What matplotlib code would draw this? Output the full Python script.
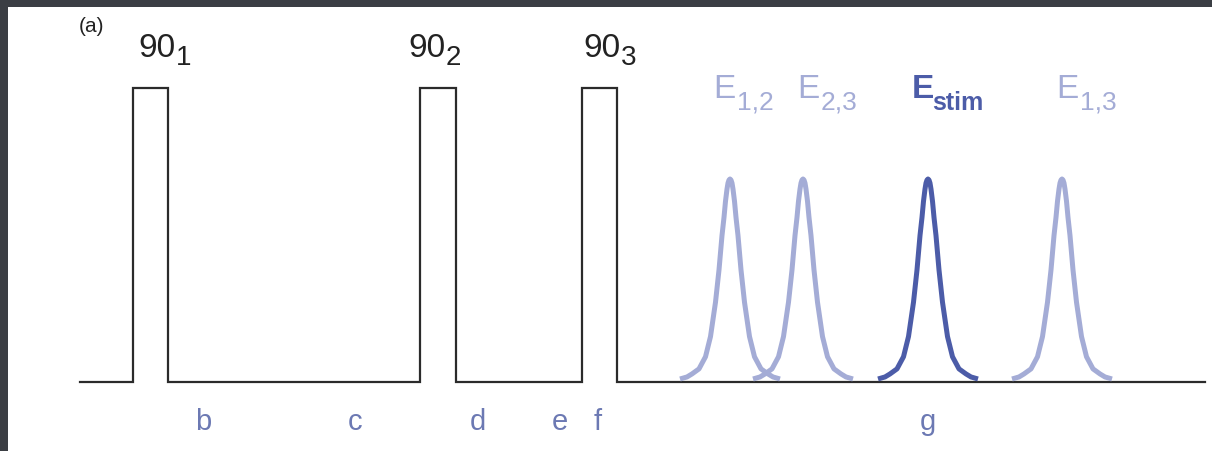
import numpy as np
import matplotlib
matplotlib.use("Agg")
import matplotlib.pyplot as plt

plt.rcParams['font.family'] = ['Liberation Sans', 'DejaVu Sans']

# time axis of the sequence (arbitrary units, roughly pixels)
base_start, base_end = 80, 1205
pulse_starts = [133, 420, 582]
pulse_ends = [168, 456, 617]
pulse_height = 294
pulse_names = ['90', '90', '90']
pulse_subs = ['1', '2', '3']
pulse_label_x = [138, 408, 583]

# echoes
echo_centers = [730, 803, 928, 1062]
echo_height = 202
echo_names = ['E', 'E', 'E', 'E']
echo_subs = ['1,2', '2,3', 'stim', '1,3']
echo_label_x = [713, 797, 912, 1056]
echo_dark = [False, False, True, False]
# half profile of an echo (offset from centre, fraction of height)
echo_dx = [0, 1, 2, 3, 4.5, 6, 8, 11, 14.5, 19.5, 24.5, 31, 38, 43, 50]
echo_frac = [1.0, 0.995, 0.98, 0.95, 0.89, 0.81, 0.72, 0.55, 0.39, 0.22, 0.12, 0.06, 0.035, 0.02, 0.01]

# interval letters under the time axis
interval_labels = ['b', 'c', 'd', 'e', 'f', 'g']
interval_pos = [203, 355, 478, 560, 598, 928]

light = '#a4acd6'
dark = '#4c5ca8'
letter_col = '#6c79b3'
ink = '#222222'


def label_with_sub(ax, x, y, main, sub, size, sub_size, color, weight='normal', gap=1, drop=-1):
    t = ax.text(x, y, main, fontsize=size, ha='left', va='baseline', color=color, fontweight=weight)
    ax.annotate(sub, xy=(1, 0), xycoords=t, xytext=(gap, drop), textcoords='offset points',
                fontsize=sub_size, ha='left', va='baseline', color=color, fontweight=weight)


fig = plt.figure(figsize=(12.12, 4.52), dpi=100)
fig.patch.set_facecolor('#3b3e44')
ax = fig.add_axes([8 / 1212, 0, 1 - 8 / 1212, 1 - 8 / 452])
ax.set_facecolor('white')
ax.set_xlim(8, 1212)
ax.set_ylim(-69, 375)
ax.set_xticks([])
ax.set_yticks([])
for sp in ax.spines.values():
    sp.set_visible(False)

# pulse train with baseline
xs = [base_start]
ys = [0]
for s, e in zip(pulse_starts, pulse_ends):
    xs += [s, s, e, e]
    ys += [0, pulse_height, pulse_height, 0]
xs.append(base_end)
ys.append(0)
ax.plot(xs, ys, color='#2b2b2b', lw=1.6, solid_joinstyle='miter')

for x, name, sub in zip(pulse_label_x, pulse_names, pulse_subs):
    label_with_sub(ax, x, 326, name, sub, 24, 20, ink, gap=0.5, drop=-1)

# echoes
dx = np.array(echo_dx, dtype=float)
fr = np.array(echo_frac)
prof_x = np.concatenate([-dx[::-1], dx[1:]])
prof_y = np.concatenate([fr[::-1], fr[1:]])
for c, d in zip(echo_centers, echo_dark):
    col = dark if d else light
    ax.plot(c + prof_x, 1 + echo_height * prof_y, color=col, lw=3.6,
            solid_joinstyle='round', solid_capstyle='butt', zorder=3)

for x, name, sub, d in zip(echo_label_x, echo_names, echo_subs, echo_dark):
    col = dark if d else light
    label_with_sub(ax, x, 285, name, sub, 24, 18 if d else 19, col,
                   weight='bold' if d else 'normal', gap=-1.5 if d else 1, drop=-3.5)

for lab, x in zip(interval_labels, interval_pos):
    ax.text(x, -39, lab, fontsize=21, ha='center', va='center', color=letter_col)

ax.text(79, 356, '(a)', fontsize=15, ha='left', va='center', color=ink)

fig.savefig('out.png', dpi=100, facecolor=fig.get_facecolor())
